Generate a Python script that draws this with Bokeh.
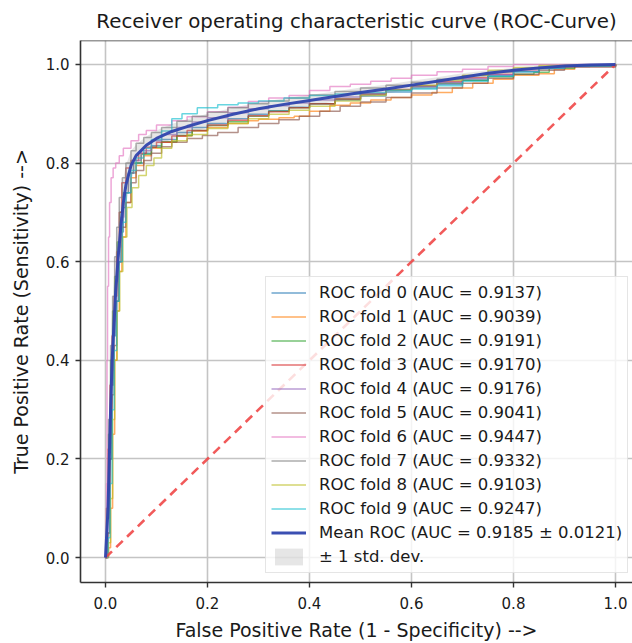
from bokeh.plotting import figure
from bokeh.models import (Legend, LegendItem, Span, FixedTicker, PrintfTickFormatter,
                          ColumnDataSource, Range1d)
from bokeh.embed import file_html
from bokeh.resources import INLINE

# ---------------- data ----------------
fold_labels = [
    "ROC fold 0 (AUC = 0.9137)", "ROC fold 1 (AUC = 0.9039)", "ROC fold 2 (AUC = 0.9191)",
    "ROC fold 3 (AUC = 0.9170)", "ROC fold 4 (AUC = 0.9176)", "ROC fold 5 (AUC = 0.9041)",
    "ROC fold 6 (AUC = 0.9447)", "ROC fold 7 (AUC = 0.9332)", "ROC fold 8 (AUC = 0.9103)",
    "ROC fold 9 (AUC = 0.9247)",
]
mean_label = "Mean ROC (AUC = 0.9185 \u00b1 0.0121)"
std_label = "\u00b1 1 std. dev."

fold0 = [(0, 0), (0.004, 0.05), (0.008, 0.2), (0.012, 0.35), (0.016, 0.45), (0.02, 0.52), (0.025, 0.6),
         (0.03, 0.66), (0.035, 0.71), (0.04, 0.74), (0.05, 0.78), (0.06, 0.8), (0.075, 0.82), (0.09, 0.835),
         (0.11, 0.848), (0.14, 0.862), (0.17, 0.872), (0.2, 0.88), (0.24, 0.89), (0.28, 0.899), (0.32, 0.906),
         (0.36, 0.913), (0.4, 0.92), (0.45, 0.928), (0.5, 0.936), (0.55, 0.944), (0.6, 0.952), (0.65, 0.96),
         (0.7, 0.968), (0.75, 0.977), (0.8, 0.985), (0.85, 0.991), (0.9, 0.996), (0.95, 0.999), (1.0, 1.0)]
fold1 = [(0, 0), (0.006, 0.02), (0.01, 0.1), (0.014, 0.25), (0.018, 0.4), (0.022, 0.5), (0.027, 0.58),
         (0.032, 0.65), (0.04, 0.72), (0.05, 0.77), (0.06, 0.795), (0.075, 0.815), (0.09, 0.83), (0.11, 0.842),
         (0.14, 0.855), (0.17, 0.865), (0.2, 0.872), (0.24, 0.88), (0.28, 0.886), (0.3, 0.889), (0.34, 0.892),
         (0.37, 0.895), (0.4, 0.905), (0.44, 0.917), (0.48, 0.922), (0.52, 0.928), (0.56, 0.933), (0.6, 0.938),
         (0.64, 0.943), (0.68, 0.952), (0.72, 0.962), (0.76, 0.97), (0.8, 0.978), (0.85, 0.981), (0.88, 0.99),
         (0.92, 0.997), (1.0, 1.0)]
fold2 = [(0, 0), (0.003, 0.08), (0.006, 0.25), (0.01, 0.4), (0.014, 0.5), (0.018, 0.57), (0.023, 0.64),
         (0.028, 0.7), (0.035, 0.74), (0.045, 0.78), (0.055, 0.8), (0.07, 0.818), (0.09, 0.832), (0.11, 0.843),
         (0.14, 0.856), (0.17, 0.866), (0.2, 0.876), (0.24, 0.884), (0.28, 0.895), (0.32, 0.905), (0.36, 0.912),
         (0.4, 0.92), (0.45, 0.93), (0.5, 0.94), (0.55, 0.948), (0.6, 0.955), (0.65, 0.962), (0.7, 0.968),
         (0.75, 0.975), (0.8, 0.98), (0.84, 0.984), (0.87, 0.992), (0.92, 0.998), (1.0, 1.0)]
fold3 = [(0, 0), (0.002, 0.1), (0.005, 0.22), (0.009, 0.35), (0.013, 0.45), (0.017, 0.53), (0.022, 0.62),
         (0.027, 0.7), (0.032, 0.76), (0.04, 0.79), (0.05, 0.805), (0.065, 0.82), (0.08, 0.832), (0.1, 0.842),
         (0.13, 0.855), (0.16, 0.866), (0.2, 0.877), (0.24, 0.887), (0.28, 0.896), (0.32, 0.904), (0.36, 0.912),
         (0.4, 0.92), (0.45, 0.93), (0.5, 0.94), (0.55, 0.949), (0.6, 0.957), (0.65, 0.965), (0.7, 0.973),
         (0.75, 0.98), (0.8, 0.986), (0.85, 0.992), (0.9, 0.996), (1.0, 1.0)]
fold4 = [(0, 0), (0.004, 0.08), (0.008, 0.25), (0.012, 0.38), (0.016, 0.48), (0.02, 0.56), (0.025, 0.63),
         (0.03, 0.69), (0.036, 0.74), (0.045, 0.78), (0.055, 0.805), (0.07, 0.825), (0.09, 0.845), (0.11, 0.858),
         (0.14, 0.872), (0.17, 0.883), (0.2, 0.892), (0.24, 0.902), (0.28, 0.91), (0.32, 0.916), (0.36, 0.922),
         (0.4, 0.928), (0.45, 0.934), (0.5, 0.941), (0.55, 0.948), (0.6, 0.955), (0.65, 0.963), (0.7, 0.971),
         (0.75, 0.979), (0.8, 0.986), (0.85, 0.992), (0.9, 0.997), (1.0, 1.0)]
fold5 = [(0, 0), (0.005, 0.05), (0.009, 0.2), (0.013, 0.33), (0.017, 0.43), (0.022, 0.52), (0.027, 0.6),
         (0.033, 0.67), (0.04, 0.72), (0.05, 0.76), (0.06, 0.785), (0.075, 0.805), (0.09, 0.82), (0.11, 0.833),
         (0.13, 0.842), (0.16, 0.85), (0.19, 0.856), (0.22, 0.862), (0.26, 0.872), (0.3, 0.88), (0.34, 0.888),
         (0.38, 0.895), (0.42, 0.905), (0.46, 0.915), (0.5, 0.924), (0.55, 0.933), (0.6, 0.942), (0.65, 0.952),
         (0.7, 0.962), (0.75, 0.972), (0.8, 0.98), (0.85, 0.988), (0.9, 0.995), (1.0, 1.0)]
fold6 = [(0, 0), (0.002, 0.15), (0.003, 0.4), (0.004, 0.55), (0.006, 0.65), (0.008, 0.72), (0.011, 0.77),
         (0.015, 0.79), (0.02, 0.8), (0.027, 0.815), (0.035, 0.83), (0.05, 0.845), (0.065, 0.858), (0.08, 0.866),
         (0.1, 0.877), (0.13, 0.886), (0.16, 0.894), (0.2, 0.904), (0.24, 0.913), (0.28, 0.925), (0.32, 0.932),
         (0.36, 0.937), (0.4, 0.947), (0.44, 0.955), (0.48, 0.96), (0.52, 0.966), (0.56, 0.972), (0.6, 0.978),
         (0.65, 0.985), (0.7, 0.99), (0.75, 0.996), (0.8, 1.0), (1.0, 1.0)]
fold7 = [(0, 0), (0.003, 0.1), (0.006, 0.28), (0.01, 0.43), (0.014, 0.53), (0.018, 0.61), (0.022, 0.67),
         (0.027, 0.73), (0.033, 0.77), (0.04, 0.8), (0.05, 0.825), (0.06, 0.84), (0.075, 0.852), (0.09, 0.862),
         (0.11, 0.872), (0.14, 0.885), (0.17, 0.895), (0.2, 0.903), (0.24, 0.912), (0.28, 0.92), (0.32, 0.926),
         (0.36, 0.932), (0.4, 0.938), (0.45, 0.945), (0.5, 0.952), (0.55, 0.958), (0.6, 0.964), (0.65, 0.97),
         (0.7, 0.977), (0.75, 0.984), (0.8, 0.99), (0.85, 0.995), (0.9, 0.998), (1.0, 1.0)]
fold8 = [(0, 0), (0.006, 0.03), (0.01, 0.12), (0.014, 0.28), (0.018, 0.4), (0.023, 0.5), (0.028, 0.58),
         (0.034, 0.65), (0.042, 0.71), (0.052, 0.75), (0.065, 0.775), (0.08, 0.795), (0.095, 0.81), (0.11, 0.83),
         (0.13, 0.845), (0.16, 0.858), (0.2, 0.87), (0.24, 0.88), (0.28, 0.89), (0.32, 0.899), (0.36, 0.907),
         (0.4, 0.915), (0.45, 0.926), (0.5, 0.937), (0.55, 0.948), (0.6, 0.958), (0.65, 0.968), (0.7, 0.978),
         (0.75, 0.988), (0.8, 0.994), (0.85, 0.998), (1.0, 1.0)]
fold9 = [(0, 0), (0.005, 0.04), (0.009, 0.15), (0.013, 0.3), (0.017, 0.42), (0.022, 0.52), (0.027, 0.6),
         (0.033, 0.68), (0.04, 0.74), (0.05, 0.785), (0.06, 0.81), (0.075, 0.83), (0.09, 0.848), (0.11, 0.865),
         (0.13, 0.89), (0.15, 0.9), (0.18, 0.912), (0.22, 0.918), (0.26, 0.922), (0.3, 0.926), (0.35, 0.932),
         (0.4, 0.937), (0.45, 0.94), (0.5, 0.943), (0.55, 0.947), (0.6, 0.95), (0.65, 0.957), (0.7, 0.966),
         (0.75, 0.976), (0.8, 0.985), (0.85, 0.992), (0.9, 0.997), (1.0, 1.0)]

mean_fpr = [0, 0.005, 0.01, 0.013, 0.017, 0.02, 0.025, 0.03, 0.035, 0.04, 0.05, 0.06, 0.08, 0.1, 0.13,
            0.16, 0.2, 0.25, 0.3, 0.35, 0.4, 0.45, 0.5, 0.55, 0.6, 0.65, 0.7, 0.75, 0.8, 0.85, 0.9, 0.95, 1.0]
mean_tpr = [0, 0.1, 0.3, 0.4, 0.48, 0.54, 0.61, 0.67, 0.72, 0.755, 0.795, 0.815, 0.836, 0.85, 0.864,
            0.874, 0.886, 0.899, 0.91, 0.919, 0.927, 0.935, 0.943, 0.95, 0.958, 0.966, 0.974, 0.982,
            0.988, 0.993, 0.997, 0.999, 1.0]
std_tpr = [0, 0.06, 0.1, 0.1, 0.09, 0.08, 0.07, 0.06, 0.05, 0.04, 0.03, 0.022, 0.018, 0.016, 0.015,
           0.015, 0.014, 0.013, 0.013, 0.012, 0.011, 0.01, 0.01, 0.009, 0.009, 0.008, 0.008, 0.006,
           0.005, 0.004, 0.002, 0.001, 0.0]

fold_points = [fold0, fold1, fold2, fold3, fold4, fold5, fold6, fold7, fold8, fold9]
fold_colors = ["#1f77b4", "#ff7f0e", "#2ca02c", "#d62728", "#9467bd",
               "#8c564b", "#e377c2", "#7f7f7f", "#bcbd22", "#17becf"]
tick_values = [0.0, 0.2, 0.4, 0.6, 0.8, 1.0]

FONT = "DejaVu Sans"
TXT = "#1a1a1a"

# ---------------- figure ----------------
p = figure(width=632, height=643, output_backend="svg", toolbar_location=None,
           x_range=Range1d(-0.0490, 1.0333), y_range=Range1d(-0.0505, 1.0485),
           min_border_left=80, min_border_right=0, min_border_top=40, min_border_bottom=59,
           title="Receiver operating characteristic curve (ROC-Curve)")
p.outline_line_color = None
p.background_fill_color = "white"

p.title.text_font = FONT
p.title.text_font_size = "19.8px"
p.title.text_font_style = "normal"
p.title.text_color = TXT
p.title.align = "center"
p.title.standoff = 15

for ax in (p.xaxis[0], p.yaxis[0]):
    ax.ticker = FixedTicker(ticks=tick_values)
    ax.formatter = PrintfTickFormatter(format="%.1f")
    ax.axis_line_color = "#333333"
    ax.axis_line_width = 1.6
    ax.major_tick_line_color = "#333333"
    ax.major_tick_line_width = 1.4
    ax.major_tick_out = 5
    ax.major_tick_in = 0
    ax.minor_tick_line_color = None
    ax.major_label_text_font = FONT
    ax.major_label_text_font_size = "15px"
    ax.major_label_text_color = TXT
    ax.axis_label_text_font = FONT
    ax.axis_label_text_font_size = "19px"
    ax.axis_label_text_font_style = "normal"
    ax.axis_label_text_color = TXT

p.xaxis[0].axis_label = "False Positive Rate (1 - Specificity) -->"
p.xaxis[0].major_label_standoff = 9
p.xaxis[0].axis_label_standoff = 7
p.yaxis[0].axis_label = "True Positive Rate (Sensitivity) -->"
p.yaxis[0].major_label_standoff = 6
p.yaxis[0].axis_label_standoff = 11

p.xgrid.ticker = FixedTicker(ticks=tick_values)
p.ygrid.ticker = FixedTicker(ticks=tick_values)
p.grid.grid_line_color = "#c4c4c4"
p.grid.grid_line_width = 1.6

# top spine
p.add_layout(Span(location=p.y_range.end, dimension="width",
                  line_color="#333333", line_width=1.6))

items = []
for pts, col, lab in zip(fold_points, fold_colors, fold_labels):
    src = ColumnDataSource(dict(x=[a for a, b in pts], y=[b for a, b in pts]))
    r = p.step("x", "y", source=src, mode="after", line_color=col, line_alpha=0.65, line_width=1.5)
    items.append(LegendItem(label=lab, renderers=[r]))

# chance diagonal
p.line([0, 1], [0, 1], line_color="#f04848", line_alpha=0.9, line_width=2.6, line_dash="9 6")

upper = [min(m + s, 1.0) for m, s in zip(mean_tpr, std_tpr)]
lower = [max(m - s, 0.0) for m, s in zip(mean_tpr, std_tpr)]
band = p.varea(x=mean_fpr, y1=lower, y2=upper, fill_color="#808080", fill_alpha=0.2)
mean_r = p.line(mean_fpr, mean_tpr, line_color="#3046ae", line_width=3, line_alpha=0.95)
items.append(LegendItem(label=mean_label, renderers=[mean_r]))
items.append(LegendItem(label=std_label, renderers=[band]))

legend = Legend(items=items, location=(185, 9))
legend.label_text_font = FONT
legend.label_text_font_size = "16.5px"
legend.label_text_color = TXT
legend.glyph_width = 35
legend.glyph_height = 21
legend.label_height = 21
legend.spacing = 3
legend.padding = 5
legend.margin = 0
legend.label_standoff = 13
legend.background_fill_color = "white"
legend.background_fill_alpha = 0.8
legend.border_line_color = "#cccccc"
legend.border_line_width = 1.2
p.add_layout(legend)

open("out.html", "w").write(file_html(p, INLINE))
